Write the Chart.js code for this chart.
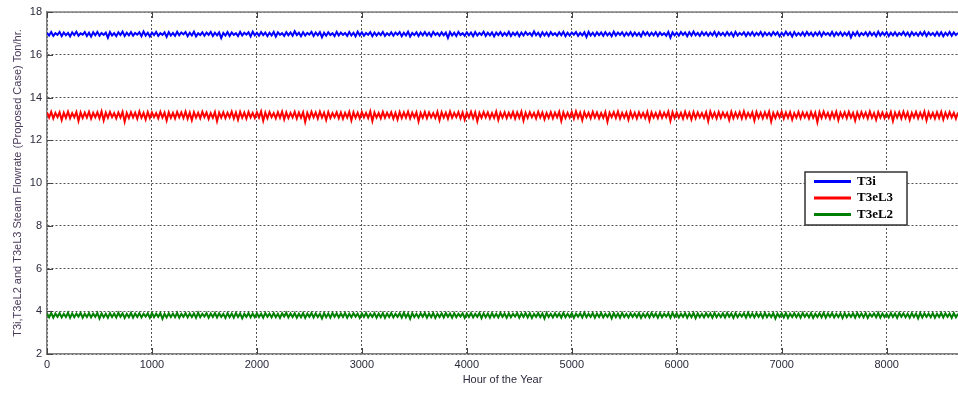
<!DOCTYPE html>
<html>
<head>
<meta charset="utf-8">
<title>Steam Flowrate</title>
<script src="https://cdn.jsdelivr.net/npm/chart.js@4.4.0/dist/chart.umd.min.js"></script>
<style>
  html, body { margin: 0; padding: 0; background: #fff; overflow: hidden; }
  canvas { display: block; }
</style>
</head>
<body>
<canvas id="flowChart" width="958" height="394"></canvas>
<script>
// one sample every 20 hours through the year
const HOUR_STEP = 20;

const seriesNames = ['T3i', 'T3eL3', 'T3eL2'];
const seriesColors = ['#0000ff', '#ff0000', '#008000'];

const t3i = [
  17.03,16.90,17.06,16.88,17.01,16.93,17.07,16.87,17.04,16.91,17.02,16.86,17.05,16.92,17.08,16.89,17.00,16.94,17.06,16.88,
  17.03,16.85,17.05,16.91,17.07,16.89,17.02,16.93,17.04,16.80,17.06,16.90,17.01,16.87,17.05,16.92,17.08,16.88,17.03,16.91,
  17.06,16.89,17.02,16.94,17.05,16.87,17.09,16.90,17.03,16.86,17.04,16.92,17.07,16.88,17.01,16.93,17.05,16.84,17.06,16.90,
  17.02,16.88,17.07,16.91,17.04,16.95,17.06,16.87,17.03,16.90,17.08,16.86,17.01,16.92,17.05,16.89,17.04,16.93,17.07,16.88,
  17.03,16.91,17.05,16.78,17.02,16.90,17.06,16.88,17.04,16.93,17.01,16.87,17.07,16.90,17.03,16.94,17.05,16.86,17.08,16.91,
  17.02,16.89,17.06,16.92,17.04,16.87,17.03,16.90,17.07,16.85,17.05,16.93,17.01,16.88,17.06,16.91,17.04,16.89,17.10,16.92,
  17.03,16.87,17.05,16.90,17.02,16.94,17.07,16.88,17.04,16.91,17.06,16.82,17.03,16.89,17.05,16.92,17.01,16.87,17.07,16.90,
  17.04,16.93,17.02,16.88,17.06,16.90,17.03,16.86,17.08,16.91,17.05,16.89,17.02,16.93,17.06,16.87,17.04,16.90,17.03,16.92,
  17.07,16.88,17.01,16.91,17.05,16.89,17.04,16.94,17.06,16.87,17.03,16.90,17.08,16.85,17.02,16.92,17.05,16.88,17.04,16.91,
  17.06,16.90,17.03,16.87,17.07,16.93,17.02,16.89,17.05,16.91,17.04,16.79,17.06,16.90,17.03,16.88,17.07,16.92,17.01,16.89,
  17.05,16.91,17.04,16.87,17.06,16.90,17.02,16.93,17.08,16.88,17.03,16.91,17.05,16.86,17.04,16.92,17.06,16.89,17.02,16.90,
  17.07,16.88,17.03,16.92,17.05,16.87,17.04,16.90,17.06,16.93,17.02,16.89,17.09,16.91,17.03,16.86,17.05,16.90,17.04,16.88,
  17.06,16.92,17.01,16.89,17.05,16.91,17.07,16.87,17.03,16.90,17.04,16.94,17.06,16.88,17.02,16.91,17.05,16.83,17.07,16.90,
  17.03,16.88,17.05,16.92,17.04,16.89,17.06,16.91,17.02,16.87,17.08,16.90,17.04,16.93,17.05,16.88,17.03,16.91,17.06,16.89,
  17.04,16.90,17.02,16.86,17.07,16.92,17.05,16.89,17.03,16.91,17.06,16.88,17.04,16.92,17.01,16.89,17.07,16.80,17.05,16.91,
  17.03,16.89,17.06,16.93,17.04,16.87,17.05,16.90,17.08,16.91,17.02,16.88,17.06,16.92,17.04,16.89,17.03,16.91,17.07,16.87,
  17.05,16.92,17.03,16.89,17.06,16.91,17.04,16.86,17.07,16.90,17.02,16.93,17.05,16.88,17.04,16.91,17.06,16.89,17.03,16.92,
  17.07,16.88,17.04,16.91,17.02,16.89,17.06,16.93,17.05,16.87,17.03,16.90,17.08,16.92,17.04,16.85,17.06,16.90,17.02,16.91,
  17.05,16.89,17.07,16.92,17.03,16.88,17.04,16.91,17.06,16.87,17.05,16.93,17.02,16.90,17.07,16.88,17.04,16.92,17.05,16.89,
  17.03,16.91,17.06,16.81,17.04,16.90,17.07,16.88,17.02,16.92,17.05,16.89,17.06,16.91,17.03,16.87,17.08,16.90,17.04,16.92,
  17.06,16.88,17.03,16.91,17.05,16.89,17.02,16.93,17.07,16.90,17.04,16.87,17.06,16.92,17.03,16.89,17.05,16.91,17.07,16.88,
  17.04,16.92,17.02,16.89,17.06,16.90,17.05,16.87,17.03,16.91,17.07,16.89,17.04,16.92,17.02,16.88,17.05
];

const t3eL3 = [
  13.30,13.06,13.33,13.02,13.28,13.08,13.31,12.95,13.29,13.05,13.34,13.03,13.27,13.07,13.32,12.90,13.30,13.04,13.29,13.06,
  13.33,13.01,13.28,13.07,13.31,13.03,13.35,12.93,13.29,13.05,13.32,13.08,13.27,13.02,13.30,13.06,13.33,12.87,13.28,13.04,
  13.31,13.07,13.29,13.01,13.34,13.05,13.28,12.97,13.32,13.04,13.30,13.08,13.27,13.03,13.33,13.06,13.29,12.92,13.31,13.05,
  13.28,13.02,13.32,13.07,13.30,13.04,13.34,13.01,13.29,12.94,13.31,13.06,13.28,13.03,13.33,13.08,13.30,13.00,13.27,13.05,
  13.32,12.89,13.29,13.06,13.31,13.03,13.28,13.07,13.34,13.02,13.30,12.96,13.33,13.05,13.29,13.01,13.32,13.07,13.28,13.04,
  13.31,13.06,13.35,12.91,13.29,13.03,13.32,13.08,13.27,13.02,13.31,13.05,13.34,12.98,13.30,13.04,13.28,13.07,13.33,13.01,
  13.29,13.05,13.31,12.86,13.28,13.03,13.33,13.07,13.30,13.02,13.34,13.06,13.29,12.95,13.32,13.04,13.27,13.08,13.31,13.03,
  13.30,13.01,13.28,13.06,13.33,12.93,13.31,13.05,13.29,13.02,13.32,13.07,13.28,13.04,13.35,12.90,13.30,13.06,13.27,13.03,
  13.33,13.05,13.29,13.08,13.31,13.01,13.28,12.97,13.32,13.04,13.30,13.06,13.34,13.02,13.29,13.07,13.31,12.88,13.28,13.05,
  13.32,13.03,13.30,13.07,13.27,13.04,13.33,12.94,13.31,13.06,13.29,13.01,13.34,13.05,13.28,13.08,13.32,13.02,13.30,12.96,
  13.29,13.06,13.33,13.03,13.31,12.89,13.28,13.05,13.32,13.07,13.30,13.02,13.27,13.04,13.34,12.95,13.29,13.06,13.31,13.03,
  13.28,13.07,13.32,13.01,13.30,13.05,13.34,12.92,13.29,13.04,13.31,13.08,13.28,13.02,13.33,13.06,13.30,12.98,13.27,13.05,
  13.31,13.03,13.29,13.07,13.33,12.90,13.30,13.04,13.28,13.06,13.32,13.01,13.35,13.05,13.29,12.94,13.31,13.07,13.28,13.03,
  13.33,13.06,13.30,13.02,13.27,13.05,13.32,12.87,13.29,13.08,13.31,13.04,13.34,13.01,13.28,13.06,13.30,12.96,13.33,13.05,
  13.29,13.02,13.31,13.07,13.28,13.04,13.33,12.93,13.30,13.06,13.27,13.03,13.32,13.05,13.29,13.08,13.34,12.91,13.31,13.04,
  13.30,13.06,13.28,13.01,13.33,13.05,13.29,12.97,13.32,13.03,13.30,13.07,13.27,13.04,13.31,12.89,13.34,13.06,13.29,13.02,
  13.32,13.05,13.30,13.08,13.28,12.95,13.33,13.03,13.29,13.06,13.31,13.02,13.35,13.04,13.28,13.07,13.30,12.92,13.32,13.05,
  13.29,13.03,13.31,13.06,13.34,12.88,13.28,13.04,13.30,13.07,13.33,13.01,13.29,13.05,13.31,12.97,13.27,13.06,13.32,13.03,
  13.30,13.07,13.28,13.02,13.32,13.05,13.29,12.84,13.31,13.04,13.34,13.06,13.28,13.01,13.30,13.05,13.33,12.94,13.29,13.07,
  13.31,13.03,13.33,13.06,13.28,12.92,13.30,13.04,13.32,13.07,13.29,13.02,13.34,13.05,13.27,12.96,13.31,13.06,13.30,13.03,
  13.28,13.05,13.32,12.90,13.29,13.06,13.31,13.02,13.33,13.04,13.30,12.95,13.28,13.07,13.32,13.03,13.29,13.05,13.34,12.93,
  13.30,13.06,13.28,13.02,13.31,13.04,13.33,12.97,13.29,13.05,13.32,13.07,13.28,13.01,13.30,12.91,13.31
];

const t3eL2 = [
  3.90,3.72,3.92,3.70,3.89,3.74,3.91,3.71,3.88,3.73,3.93,3.69,3.90,3.72,3.89,3.75,3.92,3.70,3.88,3.73,
  3.91,3.71,3.89,3.74,3.92,3.66,3.90,3.72,3.88,3.70,3.91,3.73,3.89,3.71,3.93,3.74,3.90,3.69,3.88,3.72,
  3.92,3.70,3.89,3.73,3.91,3.71,3.88,3.75,3.90,3.69,3.92,3.72,3.89,3.74,3.91,3.65,3.88,3.71,3.90,3.73,
  3.89,3.72,3.92,3.70,3.88,3.74,3.91,3.71,3.89,3.73,3.90,3.69,3.93,3.72,3.88,3.75,3.91,3.70,3.89,3.73,
  3.92,3.71,3.90,3.74,3.88,3.69,3.91,3.72,3.89,3.70,3.92,3.73,3.90,3.67,3.88,3.74,3.91,3.71,3.89,3.72,
  3.90,3.73,3.88,3.70,3.92,3.74,3.89,3.71,3.91,3.72,3.88,3.69,3.90,3.75,3.93,3.71,3.89,3.73,3.91,3.70,
  3.88,3.72,3.91,3.69,3.89,3.74,3.92,3.71,3.90,3.73,3.88,3.66,3.91,3.72,3.89,3.70,3.92,3.74,3.90,3.71,
  3.89,3.73,3.92,3.70,3.88,3.72,3.91,3.75,3.89,3.69,3.90,3.73,3.92,3.71,3.88,3.74,3.91,3.70,3.89,3.72,
  3.91,3.69,3.89,3.73,3.92,3.71,3.88,3.74,3.90,3.70,3.93,3.72,3.89,3.65,3.91,3.73,3.88,3.71,3.90,3.74,
  3.92,3.70,3.89,3.72,3.91,3.69,3.88,3.73,3.90,3.71,3.92,3.74,3.89,3.70,3.91,3.72,3.88,3.75,3.90,3.69,
  3.89,3.73,3.91,3.71,3.88,3.74,3.92,3.68,3.90,3.72,3.89,3.70,3.91,3.73,3.88,3.71,3.92,3.74,3.89,3.70,
  3.90,3.72,3.88,3.75,3.91,3.70,3.89,3.73,3.92,3.71,3.90,3.69,3.88,3.74,3.91,3.72,3.89,3.66,3.92,3.73,
  3.88,3.71,3.90,3.74,3.89,3.70,3.92,3.72,3.88,3.73,3.91,3.69,3.89,3.75,3.90,3.71,3.93,3.72,3.88,3.74,
  3.91,3.70,3.89,3.73,3.92,3.71,3.88,3.74,3.90,3.67,3.91,3.72,3.89,3.70,3.92,3.73,3.88,3.71,3.90,3.74,
  3.89,3.72,3.91,3.69,3.88,3.73,3.90,3.71,3.92,3.74,3.89,3.70,3.91,3.72,3.88,3.75,3.90,3.69,3.92,3.73,
  3.90,3.71,3.88,3.74,3.91,3.70,3.89,3.72,3.92,3.68,3.90,3.73,3.88,3.71,3.91,3.74,3.89,3.70,3.92,3.72,
  3.88,3.73,3.90,3.71,3.92,3.74,3.89,3.69,3.91,3.72,3.88,3.75,3.90,3.70,3.93,3.73,3.89,3.71,3.91,3.74,
  3.89,3.70,3.92,3.72,3.88,3.73,3.91,3.66,3.89,3.74,3.90,3.71,3.92,3.69,3.88,3.73,3.91,3.72,3.89,3.70,
  3.92,3.74,3.89,3.71,3.91,3.69,3.88,3.73,3.90,3.72,3.92,3.70,3.89,3.74,3.91,3.71,3.88,3.73,3.90,3.68,
  3.91,3.72,3.88,3.74,3.90,3.70,3.92,3.73,3.89,3.71,3.91,3.69,3.88,3.75,3.90,3.72,3.92,3.70,3.89,3.73,
  3.88,3.71,3.91,3.73,3.89,3.69,3.92,3.74,3.90,3.72,3.88,3.70,3.91,3.73,3.89,3.67,3.92,3.71,3.90,3.74,
  3.89,3.72,3.91,3.70,3.88,3.73,3.92,3.71,3.90,3.74,3.89,3.69,3.91,3.72,3.88,3.73,3.90
];

const xTicks = [0, 1000, 2000, 3000, 4000, 5000, 6000, 7000, 8000];
const yTicks = [2, 4, 6, 8, 10, 12, 14, 16, 18];
const xMin = 0, xMax = 8680;
const yMin = 2, yMax = 18;

const yTitle = 'T3i,T3eL2 and T3eL3 Steam Flowrate (Proposed Case) Ton/hr.';
const xTitle = 'Hour of the Year';

const axisFont = { family: 'Arial, "Liberation Sans", sans-serif', size: 11 };
const labelColor = '#2a2a3c';

function toPoints(values) {
  return values.map((v, i) => ({ x: i * HOUR_STEP, y: v }));
}

// frame on top, inward tick marks and the boxed legend
const framePlugin = {
  id: 'frame',
  afterDraw(chart) {
    const ctx = chart.ctx;
    const a = chart.chartArea;
    const xs = chart.scales.x, ys = chart.scales.y;
    ctx.save();
    ctx.strokeStyle = '#808080';
    ctx.lineWidth = 1.5;
    ctx.beginPath();
    ctx.moveTo(a.left, a.top);
    ctx.lineTo(a.right, a.top);
    ctx.stroke();

    ctx.strokeStyle = '#444';
    ctx.lineWidth = 1;
    ctx.beginPath();
    xs.ticks.forEach(t => {
      const px = Math.round(xs.getPixelForValue(t.value)) + 0.5;
      ctx.moveTo(px, a.top); ctx.lineTo(px, a.top + 6);
      ctx.moveTo(px, a.bottom); ctx.lineTo(px, a.bottom - 6);
    });
    ys.ticks.forEach(t => {
      const py = Math.round(ys.getPixelForValue(t.value)) + 0.5;
      ctx.moveTo(a.left, py); ctx.lineTo(a.left + 6, py);
    });
    ctx.stroke();

    // legend
    const bx = 805, by = 172, bw = 102, bh = 53;
    ctx.fillStyle = '#fff';
    ctx.fillRect(bx, by, bw, bh);
    ctx.strokeStyle = '#333';
    ctx.lineWidth = 1.5;
    ctx.strokeRect(bx, by, bw, bh);
    ctx.font = 'bold 13px "Liberation Serif", "Times New Roman", serif';
    ctx.textBaseline = 'middle';
    chart.data.datasets.forEach((ds, i) => {
      const ly = by + 9.5 + i * 16.5;
      ctx.strokeStyle = ds.borderColor;
      ctx.lineWidth = 3;
      ctx.beginPath();
      ctx.moveTo(bx + 9, ly);
      ctx.lineTo(bx + 46, ly);
      ctx.stroke();
      ctx.fillStyle = '#000';
      ctx.fillText(ds.label, bx + 52, ly);
    });
    ctx.restore();
  }
};

const ctx = document.getElementById('flowChart').getContext('2d');
const flowChart = new Chart(ctx, {
  type: 'line',
  data: {
    datasets: [t3i, t3eL3, t3eL2].map((vals, i) => ({
      label: seriesNames[i],
      data: toPoints(vals),
      borderColor: seriesColors[i],
      borderWidth: 2,
      pointRadius: 0,
      tension: 0,
      fill: false
    }))
  },
  options: {
    responsive: false,
    animation: false,
    events: [],
    layout: { padding: { top: 12, right: 0, left: 0, bottom: 0 } },
    plugins: {
      legend: { display: false },
      tooltip: { enabled: false }
    },
    scales: {
      x: {
        type: 'linear',
        min: xMin,
        max: xMax,
        afterBuildTicks(scale) { scale.ticks = xTicks.map(v => ({ value: v })); },
        ticks: {
          padding: 4,
          color: labelColor,
          font: axisFont,
          callback: v => String(v),
          maxRotation: 0,
          autoSkip: false
        },
        grid: { color: '#555', lineWidth: 1, drawTicks: false },
        border: { color: '#808080', width: 1.5, dash: [2, 2] },
        title: {
          display: true,
          text: xTitle,
          color: labelColor,
          font: axisFont,
          padding: { top: 0, bottom: 7 }
        },
        afterFit(scale) { scale.height = 40; }
      },
      y: {
        min: yMin,
        max: yMax,
        afterBuildTicks(scale) { scale.ticks = yTicks.map(v => ({ value: v })); },
        ticks: {
          padding: 5,
          color: labelColor,
          font: axisFont,
          autoSkip: false
        },
        grid: { color: '#555', lineWidth: 1, drawTicks: false },
        border: { color: '#808080', width: 1.5, dash: [2, 2] },
        title: {
          display: true,
          text: yTitle,
          color: '#4a3a5a',
          font: axisFont,
          padding: { top: 11, bottom: 0 }
        },
        afterFit(scale) { scale.width = 47; }
      }
    }
  },
  plugins: [framePlugin]
});
</script>
</body>
</html>
